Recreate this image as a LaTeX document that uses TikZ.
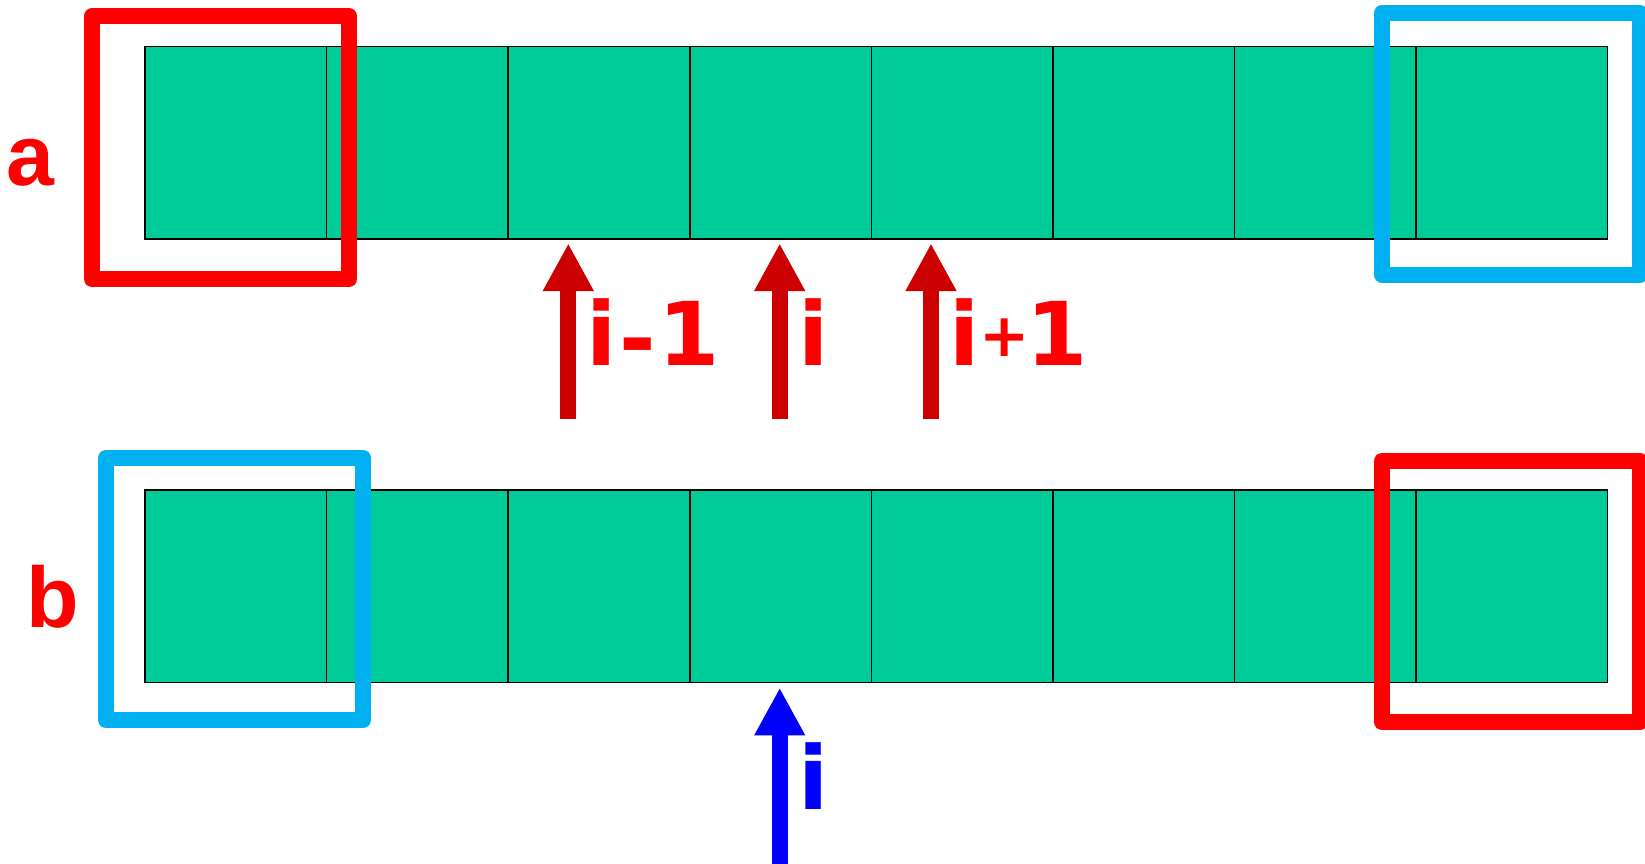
\documentclass[tikz,border=0pt]{standalone}
\usepackage{fontspec}
\setmainfont{Liberation Sans}
\newfontfamily\lblfont{DejaVu Sans}
\usetikzlibrary{arrows.meta}
\definecolor{cellgreen}{RGB}{0,204,153}
\definecolor{boxred}{RGB}{255,0,0}
\definecolor{boxblue}{RGB}{0,176,240}
\definecolor{arrred}{RGB}{204,0,0}
\definecolor{arrblue}{RGB}{0,0,255}
\begin{document}
\begin{tikzpicture}[x=1pt,y=-1pt,
  cell/.style={draw=black, line width=1.5pt, fill=cellgreen, minimum width=181.6pt,
    minimum height=192.3pt, inner sep=0pt, outer sep=0pt, anchor=north west},
  lastcell/.style={cell, minimum width=191.5pt},
  frame/.style={line width=16pt, line join=round},
  uparrow/.style={line width=16pt, -{Triangle[length=47.7pt,width=47.5pt]}},
  rowlbl/.style={inner sep=0pt, anchor=base west, text=boxred,
    font=\fontsize{86}{86}\selectfont\bfseries},
  idxlbl/.style={inner sep=0pt, anchor=base west,
    font=\lblfont\fontsize{88}{88}\selectfont\bfseries}
]
\useasboundingbox (0,0) rectangle (1645,863);
% top row
\foreach \k in {1,...,7} {
  \node[cell] (a\k) at ({145+181.6*(\k-1)},46.7) {};
}
\node[lastcell] (a8) at (1416.2,46.7) {};
% bottom row
\foreach \k in {1,...,7} {
  \node[cell] (b\k) at ({145+181.6*(\k-1)},490) {};
}
\node[lastcell] (b8) at (1416.2,490) {};
% frames
\draw[frame, boxred]  (92,16.3) rectangle (349,279);
\draw[frame, boxblue] (1382,13) rectangle (1640,274.7);
\draw[frame, boxblue] (106,458) rectangle (363,720);
\draw[frame, boxred]  (1382,461) rectangle (1640,722);
% row labels
\node[rowlbl] (la) at (6.6,185) {a};
\node[rowlbl] (lb) at (26,627) {b};
% arrows
\coordinate (t1) at (568.3,243.3); \coordinate (s1) at (568.3,419);
\coordinate (t2) at (779.7,243.3); \coordinate (s2) at (779.7,419);
\coordinate (t3) at (931,243.3);   \coordinate (s3) at (931,419);
\coordinate (tb) at (779.7,687.7); \coordinate (sb) at (779.7,870);
\draw[uparrow, arrred] (s1) -- (t1);
\draw[uparrow, arrred] (s2) -- (t2);
\draw[uparrow, arrred] (s3) -- (t3);
\draw[uparrow, arrblue] (sb) -- (tb);
% index labels
\node[idxlbl, text=boxred] (im1) at (586,365) {i\hspace{3pt}\raisebox{-4pt}{-}\hspace{3pt}1};
\node[idxlbl, text=boxred] (i0) at (798.5,365) {i};
\node[idxlbl, text=boxred] (ip1) at (949.3,365) {i\raisebox{9pt}{\fontsize{60}{60}\selectfont +}\hspace{-3pt}1};
\node[idxlbl, text=arrblue] (ib) at (798.5,809.3) {i};
\end{tikzpicture}
\end{document}
